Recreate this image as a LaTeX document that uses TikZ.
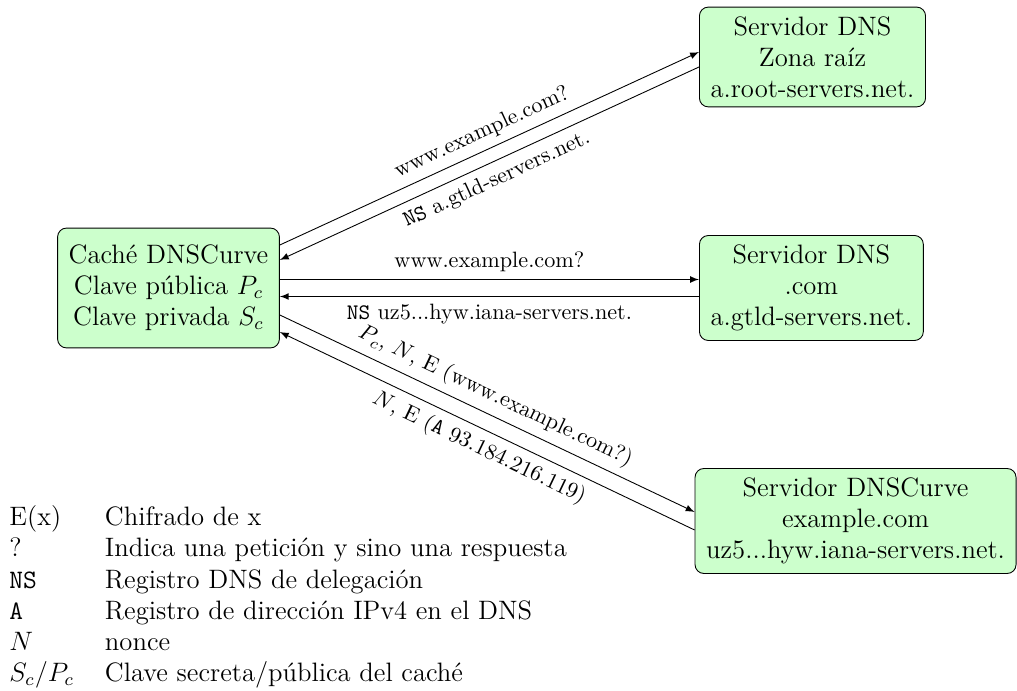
\documentclass[tikz,border=0pt]{standalone}
\usepackage{fontspec}
\usetikzlibrary{calc,arrows}
\tikzset{
  server/.style={draw, fill=green!20, rounded corners, align=center, font=\large,
    inner xsep=5pt, inner ysep=4.2pt},
  msg/.style={-latex},
  lbl/.style={sloped, midway}
}
\begin{document}
\begin{tikzpicture}[x=0.4505pt, y=-0.4505pt]
  \useasboundingbox (0,0) rectangle (1017,691);

  % resolver and the three authoritative servers
  \node[server, minimum height=54pt] (cache) at (168.5,288)
    {Caché DNSCurve\\Clave pública $P_c$\\Clave privada $S_c$};
  \node[server, anchor=west] (root) at (699,57)
    {Servidor DNS\\Zona raíz\\a.root-servers.net.};
  \node[server, anchor=west] (com) at (699,288)
    {Servidor DNS\\.com\\a.gtld-servers.net.};
  \node[server, anchor=east] (curve) at (1016.5,521)
    {Servidor DNSCurve\\example.com\\uz5...hyw.iana-servers.net.};

  % root zone exchange
  \draw[msg] ($(cache.east)+(0,-43)$) -- node[lbl, above] {www.example.com?} ($(root.west)+(0,-5)$);
  \draw[msg] ($(root.west)+(0,10)$) -- node[lbl, below] {\texttt{NS} a.gtld-servers.net.} ($(cache.east)+(0,-28)$);

  % .com exchange
  \draw[msg] ($(cache.east)+(0,-8.5)$) -- node[lbl, above] {www.example.com?} ($(com.west)+(0,-8.5)$);
  \draw[msg] ($(com.west)+(0,8.5)$) -- node[lbl, below] {\texttt{NS} uz5...hyw.iana-servers.net.} ($(cache.east)+(0,8.5)$);

  % encrypted DNSCurve exchange
  \draw[msg] ($(cache.east)+(0,27)$) -- node[lbl, above] {$P_c$, $N$, E (www.example.com?)} ($(curve.west)+(0,-9)$);
  \draw[msg] ($(curve.west)+(0,9)$) -- node[lbl, below] {$N$, E (\texttt{A} 93.184.216.119)} ($(cache.east)+(0,44)$);

  % legend
  \node[anchor=south west, inner sep=0pt, font=\large] (legend) at (9,691) {%
    \begin{tabular}{@{}l@{\hspace{14pt}}l@{}}
      E(x) & Chifrado de x\\
      ? & Indica una petición y sino una respuesta\\
      \texttt{NS} & Registro DNS de delegación\\
      \texttt{A} & Registro de dirección IPv4 en el DNS\\
      $N$ & nonce\\
      $S_c/P_c$ & Clave secreta/pública del caché
    \end{tabular}};
\end{tikzpicture}
\end{document}
